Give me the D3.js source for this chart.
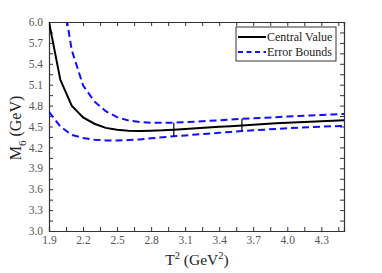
<!DOCTYPE html>
<html><head><meta charset="utf-8">
<script src="https://cdn.jsdelivr.net/npm/d3@7"></script>
<style>body{margin:0;background:#fff}svg{display:block}</style>
</head><body>
<script>
const T2 = [1.9,2.0,2.1,2.2,2.3,2.4,2.5,2.6,2.7,2.8,2.9,3.0,3.1,3.2,3.3,3.4,3.5,3.6,3.7,3.8,3.9,4.0,4.1,4.2,4.3,4.4,4.5];
const central = [6.00,5.17,4.80,4.63,4.54,4.48,4.455,4.44,4.435,4.44,4.445,4.455,4.465,4.475,4.485,4.495,4.505,4.515,4.525,4.535,4.545,4.553,4.561,4.569,4.577,4.584,4.59];
const upper = [7.6,6.6,5.6,5.09,4.86,4.72,4.635,4.585,4.565,4.555,4.553,4.555,4.562,4.57,4.58,4.59,4.60,4.61,4.618,4.626,4.634,4.642,4.65,4.658,4.665,4.672,4.68];
const lower = [4.71,4.50,4.38,4.335,4.31,4.30,4.298,4.305,4.315,4.33,4.345,4.36,4.372,4.385,4.397,4.41,4.422,4.435,4.445,4.455,4.465,4.475,4.483,4.49,4.497,4.504,4.51];
const windowT2 = [3.0, 3.6];
const xTickLabels = ["1.9","2.2","2.5","2.8","3.1","3.4","3.7","4.0","4.3"];
const yTickLabels = ["3.0","3.3","3.6","3.9","4.2","4.5","4.8","5.1","5.4","5.7","6.0"];
const legendLabels = ["Central Value","Error Bounds"];

const W=382,H=273, m={l:49,r:38,t:22,b:42};
const svg=d3.select("body").append("svg").attr("width",W).attr("height",H);
const x=d3.scaleLinear().domain([1.9,4.5]).range([m.l,W-m.r]);
const y=d3.scaleLinear().domain([3.0,6.0]).range([H-m.b,m.t]);
const font="'Liberation Serif','Times New Roman',serif";

svg.append("clipPath").attr("id","c").append("rect")
  .attr("x",m.l).attr("y",m.t).attr("width",W-m.l-m.r).attr("height",H-m.t-m.b);

const minorX=d3.range(0,18).map(i=>+(1.9+i*0.15).toFixed(3)).filter(v=>v<=4.5);
const minorY=d3.range(0,21).map(i=>+(3.0+i*0.15).toFixed(3));
const tl=4, axc="#333";
const xLab=d=>{const s=d.toFixed(2).replace(/0$/,"");return xTickLabels.includes(s)?s:"";};
const yLab=d=>{const s=d.toFixed(2).replace(/0$/,"");return yTickLabels.includes(s)?s:"";};
const gx=svg.append("g").attr("transform",`translate(0,${H-m.b})`)
  .call(d3.axisBottom(x).tickValues(minorX).tickSize(-tl).tickFormat(xLab).tickPadding(5));
const gy=svg.append("g").attr("transform",`translate(${m.l},0)`)
  .call(d3.axisLeft(y).tickValues(minorY).tickSize(-tl).tickFormat(yLab).tickPadding(6));
const gt=svg.append("g").attr("transform",`translate(0,${m.t})`)
  .call(d3.axisTop(x).tickValues(minorX).tickSize(-tl).tickFormat(""));
const gr=svg.append("g").attr("transform",`translate(${W-m.r},0)`)
  .call(d3.axisRight(y).tickValues(minorY).tickSize(-tl).tickFormat(""));
[gx,gy,gt,gr].forEach(g=>{
  g.select(".domain").attr("stroke",axc).attr("stroke-width",1.2);
  g.selectAll(".tick line").attr("stroke",axc).attr("stroke-width",1);
  g.selectAll("text").attr("font-family",font).attr("font-size",11.5).attr("fill","#555");
});

const line=vals=>d3.line().x((d,i)=>x(T2[i])).y(d=>y(d))(vals);
const plot=svg.append("g").attr("clip-path","url(#c)");
plot.append("path").attr("d",line(upper)).attr("fill","none").attr("stroke","#1010ff").attr("stroke-width",2).attr("stroke-dasharray","7,4");
plot.append("path").attr("d",line(lower)).attr("fill","none").attr("stroke","#1010ff").attr("stroke-width",2).attr("stroke-dasharray","7,4");
plot.append("path").attr("d",line(central)).attr("fill","none").attr("stroke","#000").attr("stroke-width",2);
windowT2.forEach(t=>{
  const i=T2.findIndex(v=>Math.abs(v-t)<1e-6);
  plot.append("line").attr("x1",x(t)).attr("x2",x(t)).attr("y1",y(upper[i])).attr("y2",y(lower[i]))
    .attr("stroke","#000").attr("stroke-width",1.2);
});

const lg=svg.append("g");
lg.append("rect").attr("x",236).attr("y",27).attr("width",100).attr("height",34).attr("fill","#fff").attr("stroke","#333").attr("stroke-width",1);
[["#000",null],["#1010ff","5,3.5"]].forEach((s,i)=>{
  const yy=37+i*15;
  lg.append("line").attr("x1",238).attr("x2",266).attr("y1",yy).attr("y2",yy).attr("stroke",s[0]).attr("stroke-width",2).attr("stroke-dasharray",s[1]);
  lg.append("text").attr("x",267).attr("y",yy+4).attr("font-family",font).attr("font-size",12).attr("fill","#222").text(legendLabels[i]);
});

const xl=svg.append("text").attr("x",197).attr("y",265).attr("text-anchor","middle").attr("font-family",font).attr("font-size",15.5).attr("fill","#222");
xl.append("tspan").text("T");
xl.append("tspan").attr("dy",-6).attr("font-size",10.5).text("2");
xl.append("tspan").attr("dy",6).text(" (GeV");
xl.append("tspan").attr("dy",-6).attr("font-size",10.5).text("2");
xl.append("tspan").attr("dy",6).text(")");

const yl=svg.append("text").attr("transform",`translate(21,128) rotate(-90)`).attr("text-anchor","middle").attr("font-family",font).attr("font-size",16).attr("fill","#222");
yl.append("tspan").text("M");
yl.append("tspan").attr("dy",5).attr("font-size",11).text("6");
yl.append("tspan").attr("dy",-5).text(" (GeV)");
</script>
</body></html>
